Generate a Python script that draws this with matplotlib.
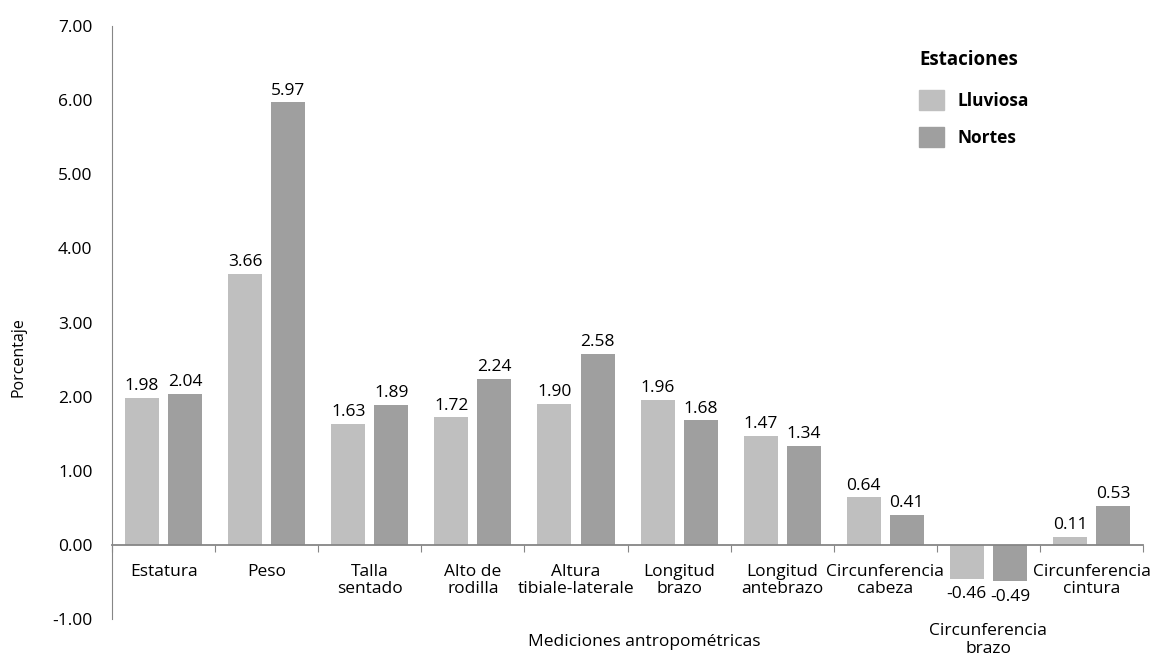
import matplotlib
matplotlib.use("Agg")
import matplotlib.pyplot as plt
from matplotlib.patches import Patch
import numpy as np

categories = ["Estatura", "Peso", "Talla\nsentado", "Alto de\nrodilla",
              "Altura\ntibiale-laterale", "Longitud\nbrazo", "Longitud\nantebrazo",
              "Circunferencia\ncabeza", "Circunferencia\nbrazo", "Circunferencia\ncintura"]
lluviosa = [1.98, 3.66, 1.63, 1.72, 1.90, 1.96, 1.47, 0.64, -0.46, 0.11]
nortes = [2.04, 5.97, 1.89, 2.24, 2.58, 1.68, 1.34, 0.41, -0.49, 0.53]

COLORS = {'lluviosa': "#bfbfbf", 'nortes': "#9f9f9f"}
AXIS_COLOR = "#868686"
FS = 12.5

plt.rcParams['font.family'] = ['Open Sans', 'DejaVu Sans']

fig = plt.figure(figsize=(11.54, 6.61), dpi=100)
ax = fig.add_axes([0.0971, 0.0635, 0.8934, 0.8972])

x = np.arange(len(categories))
w = 0.33
off = 0.209
b1 = ax.bar(x - off, lluviosa, w, color=COLORS['lluviosa'])
b2 = ax.bar(x + off, nortes, w, color=COLORS['nortes'])

for bars, vals in ((b1, lluviosa), (b2, nortes)):
    for rect, v in zip(bars, vals):
        cx = rect.get_x() + rect.get_width() / 2
        if v >= 0:
            ax.text(cx, v + 0.05, f"{v:.2f}", ha='center', va='bottom', fontsize=FS)
        else:
            ax.text(cx, v - 0.1, f"{v:.2f}", ha='center', va='top', fontsize=FS)

ax.set_xlim(-0.5, len(categories) - 0.5)
ax.set_ylim(-1, 7)
ax.set_yticks(np.arange(-1, 8, 1))
ax.set_yticklabels([f"{t:.2f}" for t in np.arange(-1, 8, 1)], fontsize=FS)
ax.tick_params(axis='y', length=0, pad=14)

# category labels drawn at the zero line (lower for the negative group)
ax.set_xticks(np.arange(-0.5, len(categories) + 0.5, 1))
ax.set_xticklabels([])
ax.tick_params(axis='x', length=5, color=AXIS_COLOR, direction='out')
for i, lab in enumerate(categories):
    y = -1.06 if min(lluviosa[i], nortes[i]) < 0 else -0.26
    ax.text(i, y, lab, ha='center', va='top', fontsize=FS, linespacing=1.1)

for s in ('top', 'right'):
    ax.spines[s].set_visible(False)
ax.spines['left'].set_color(AXIS_COLOR)
ax.spines['bottom'].set_position(('data', 0))
ax.spines['bottom'].set_color(AXIS_COLOR)
ax.spines['bottom'].set_linewidth(1.3)

fig.text(0.016, 0.46, "Porcentaje", rotation=90, ha='center', va='center', fontsize=11.5)
fig.text(0.558, 0.028, "Mediciones antropométricas", ha='center', va='center', fontsize=FS)

handles = [Patch(color=COLORS['lluviosa'], label="Lluviosa"),
           Patch(color=COLORS['nortes'], label="Nortes")]
leg = ax.legend(handles=handles, title="Estaciones", loc='upper left',
                bbox_to_anchor=(0.768, 0.985), frameon=False,
                prop={'weight': 'bold', 'size': FS},
                handlelength=1.4, handleheight=1.4, labelspacing=1.0,
                handletextpad=0.8)
leg.get_title().set_fontweight('bold')
leg.get_title().set_fontsize(13.5)
leg._legend_box.align = "left"
leg._legend_box.sep = 14

plt.savefig("out.png", dpi=100)
plt.close('all')
